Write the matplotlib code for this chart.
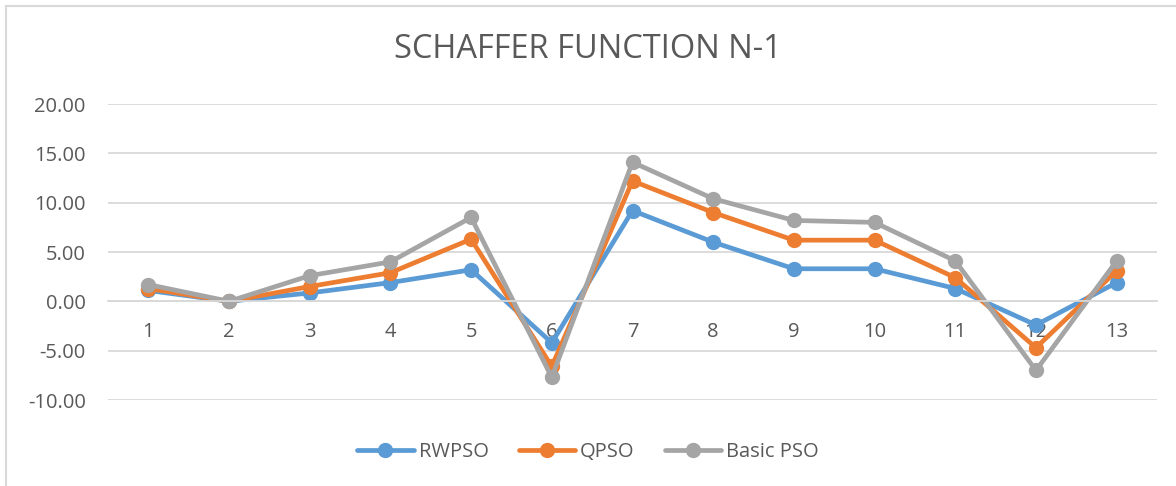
import matplotlib
matplotlib.use('Agg')
import matplotlib.pyplot as plt
from matplotlib.patches import Rectangle

# data
categories = [str(i) for i in range(1, 14)]
rwpso = [1.1, 0.0, 0.85, 1.9, 3.2, -4.2, 9.2, 6.0, 3.3, 3.3, 1.3, -2.4, 1.9]
qpso = [1.3, 0.0, 1.5, 2.9, 6.3, -6.6, 12.2, 9.0, 6.2, 6.2, 2.4, -4.7, 3.1]
basic_pso = [1.7, 0.0, 2.6, 4.0, 8.5, -7.7, 14.1, 10.4, 8.2, 8.0, 4.1, -7.0, 4.1]

series = [('RWPSO', rwpso, '#5B9BD5'),
          ('QPSO', qpso, '#ED7D31'),
          ('Basic PSO', basic_pso, '#A5A5A5')]

text_color = '#595959'
grid_color = '#D9D9D9'
plt.rcParams['font.family'] = ['Open Sans', 'DejaVu Sans']

fig = plt.figure(figsize=(11.76, 4.86), dpi=100)
W, H = 1176, 486
ax = fig.add_axes([108 / W, (H - 400) / H, (1157 - 108) / W, (400 - 104) / H])

# chart border
fig.patches.append(Rectangle((6 / W, -0.1), 1.2, (H - 6) / H + 0.1,
                             transform=fig.transFigure, fill=False,
                             edgecolor=grid_color, linewidth=1.5))

x = list(range(len(categories)))
for name, vals, col in series:
    ax.plot(x, vals, color=col, linewidth=3.4, marker='o', markersize=10,
            label=name, solid_capstyle='round', solid_joinstyle='round')

ax.set_ylim(-10, 20)
ax.set_xlim(-0.5, len(categories) - 0.5)
ax.set_yticks([-10, -5, 0, 5, 10, 15, 20])
ax.set_yticklabels([f'{v:.2f}' for v in [-10, -5, 0, 5, 10, 15, 20]])
ax.set_xticks(x)
ax.set_xticklabels(categories)

ax.grid(axis='y', color=grid_color, linewidth=1.3)
ax.set_axisbelow(True)
for s in ['top', 'right', 'left']:
    ax.spines[s].set_visible(False)
ax.spines['bottom'].set_position(('data', 0))
ax.spines['bottom'].set_color(grid_color)
ax.spines['bottom'].set_linewidth(1.3)
ax.tick_params(axis='both', length=0, colors=text_color, labelsize=14.5)
ax.tick_params(axis='x', pad=15)
ax.tick_params(axis='y', pad=16)

fig.text(0.5, (H - 50) / H, 'SCHAFFER FUNCTION N-1', ha='center', va='center',
         fontsize=23.5, color=text_color)

leg = fig.legend(loc='center', bbox_to_anchor=(0.5, (H - 452) / H), ncol=3,
                 frameon=False, fontsize=14.5, handlelength=2.8, numpoints=1,
                 columnspacing=1.5, handletextpad=0.25)
for t in leg.get_texts():
    t.set_color(text_color)

fig.savefig('out.png', dpi=100)
